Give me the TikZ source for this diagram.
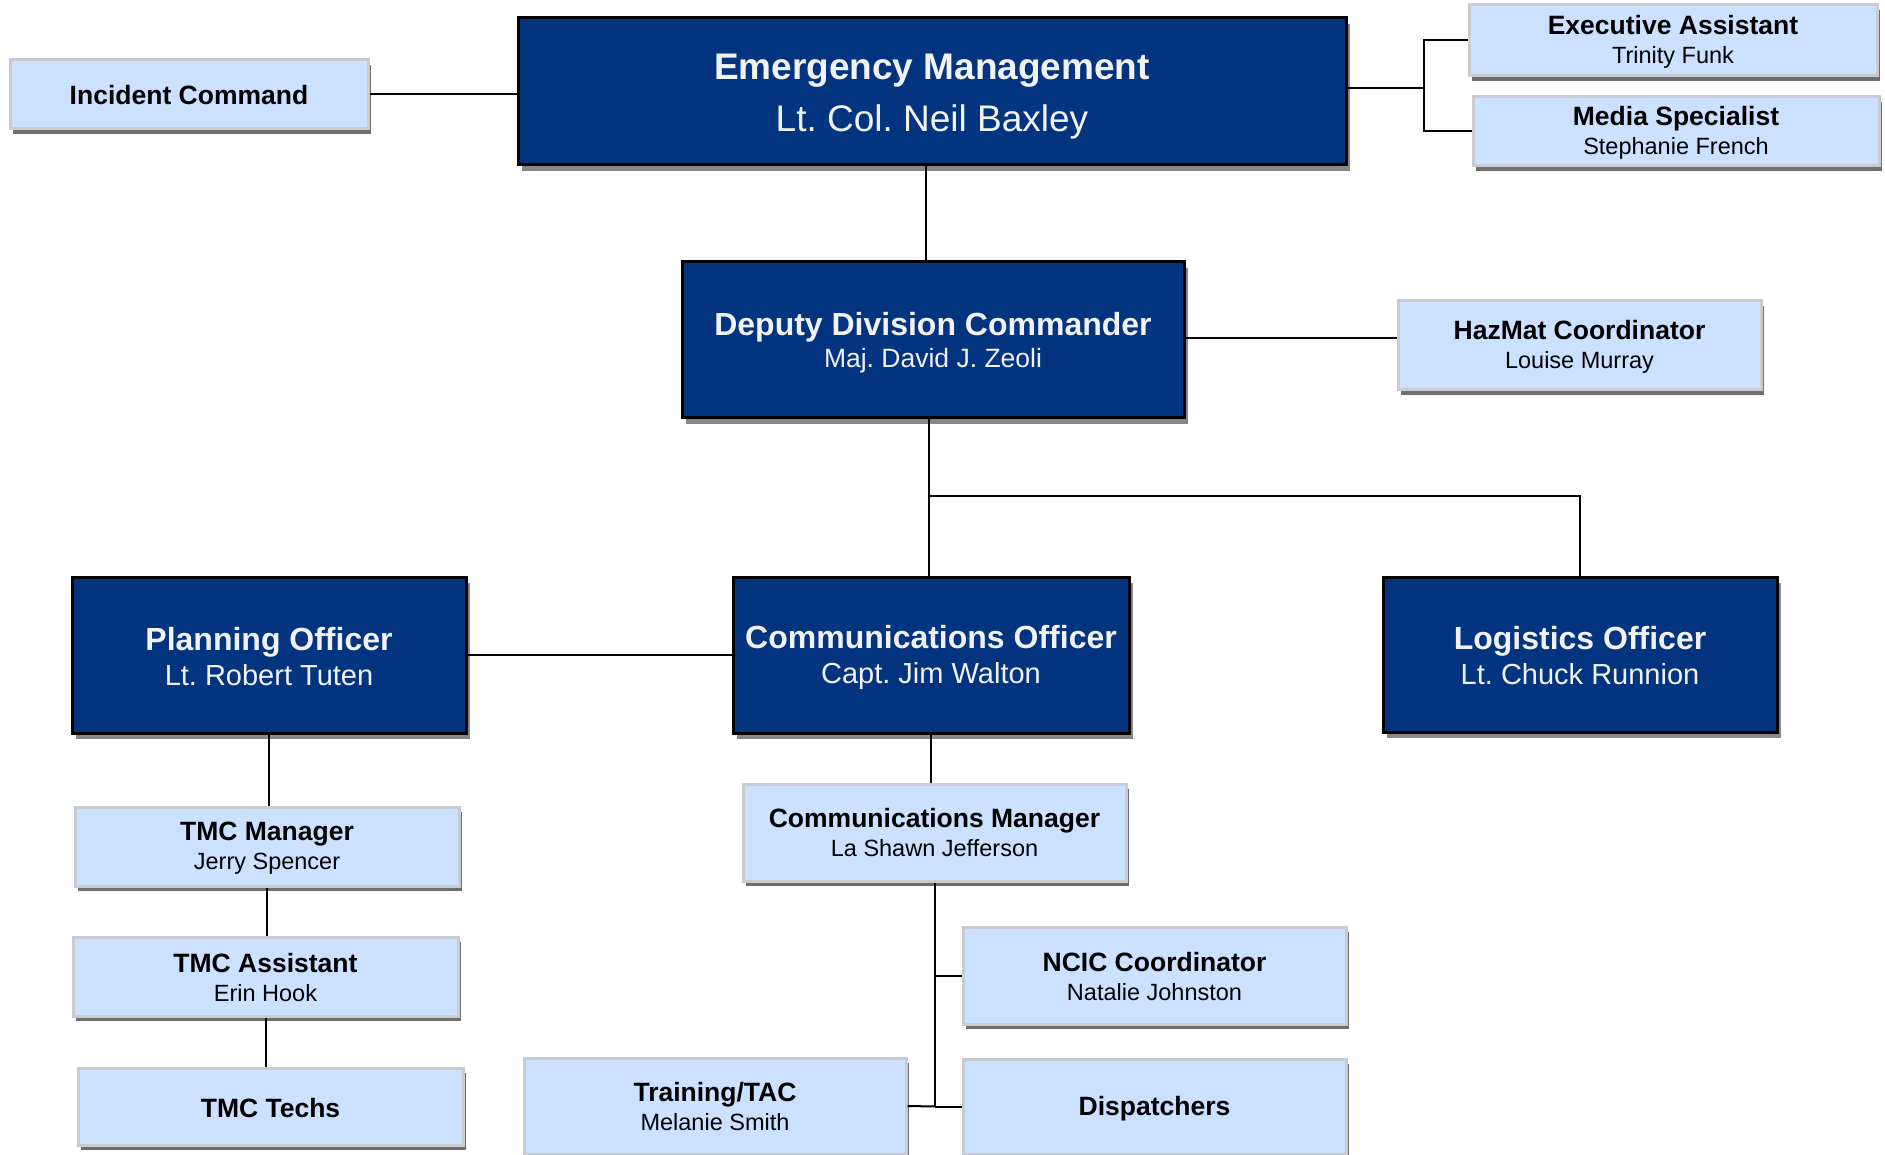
\documentclass[tikz,border=0pt]{standalone}
\usepackage{fontspec}
\setmainfont{Liberation Sans}
\frenchspacing
\usetikzlibrary{shadows,calc}
\definecolor{navy}{RGB}{3,52,128}
\definecolor{paleblue}{RGB}{204,224,255}
\definecolor{paleedge}{RGB}{200,203,208}
\definecolor{shadowdark}{RGB}{110,110,110}
\definecolor{shadowlight}{RGB}{135,135,135}
\definecolor{offwhite}{RGB}{242,242,242}
\tikzset{
  darkbox/.style={rectangle, fill=navy, draw=black, line width=3pt, text=offwhite,
    align=center, inner sep=0pt,
    drop shadow={shadow xshift=4pt, shadow yshift=-6pt, fill=shadowlight, opacity=1}},
  lightbox/.style={rectangle, fill=paleblue, draw=paleedge, line width=3pt, text=black,
    align=center, inner sep=0pt, font=\fontsize{26.5}{29}\selectfont,
    drop shadow={shadow xshift=3pt, shadow yshift=-5pt, fill=shadowdark, opacity=1}},
  officer/.style={darkbox, font=\fontsize{32}{35}\selectfont},
  conn/.style={draw=black, line width=2pt},
}
\newcommand{\lsub}[1]{{\fontsize{23.5}{29}\selectfont #1}}
\newcommand{\osub}[1]{{\fontsize{29}{35}\selectfont #1}}
\newcommand{\tp}[1]{\vrule height #1pt width 0pt depth 0pt}
\begin{document}
\begin{tikzpicture}[x=1pt,y=-1pt]
\useasboundingbox (0,0) rectangle (1885,1155);
\fill[white] (0,0) rectangle (1885,1155);

% top row
\node[lightbox, minimum width=358, minimum height=69] (IC) at (189,94.5) {\tp{21}\textbf{Incident Command}};
\node[darkbox, minimum width=828, minimum height=147, font=\fontsize{37}{52}\selectfont] (EM) at (932,91.5)
  {\tp{36.5}\textbf{Emergency Management}\\Lt. Col. Neil Baxley};
\node[lightbox, minimum width=408, minimum height=71] (EA) at (1673,40.5)
  {\tp{22}\textbf{Executive Assistant}\\\lsub{Trinity Funk}};
\node[lightbox, minimum width=406, minimum height=69] (MS) at (1676,131.5)
  {\tp{22}\textbf{Media Specialist}\\\lsub{Stephanie French}};

% second row
\node[darkbox, minimum width=502, minimum height=156, font=\fontsize{32}{32}\selectfont] (DDC) at (933,340)
  {\tp{29}\textbf{Deputy Division Commander}\\{\fontsize{26.5}{32}\selectfont Maj. David J. Zeoli}};
\node[lightbox, minimum width=363, minimum height=89] (HM) at (1579.5,345.5)
  {\tp{22}\textbf{HazMat Coordinator}\\\lsub{Louise Murray}};

% officers
\node[officer, minimum width=394, minimum height=156] (PO) at (269,655)
  {\tp{27}\textbf{Planning Officer}\\\osub{Lt. Robert Tuten}};
\node[officer, minimum width=396, minimum height=156] (CO) at (931,655)
  {\tp{27.5}\textbf{Communications Officer}\\\osub{Capt. Jim Walton}};
\node[officer, minimum width=394, minimum height=155] (LO) at (1580,654.5)
  {\tp{26}\textbf{Logistics Officer}\\\osub{Lt. Chuck Runnion}};

% planning column
\node[lightbox, minimum width=384, minimum height=79] (TMCM) at (267,846.5)
  {\tp{22}\textbf{TMC Manager}\\\lsub{Jerry Spencer}};
\node[lightbox, minimum width=385, minimum height=79] (TMCA) at (265.5,976.5)
  {\tp{22}\textbf{TMC Assistant}\\\lsub{Erin Hook}};
\node[lightbox, minimum width=385, minimum height=77] (TMCT) at (270.5,1106.5)
  {\tp{22}\textbf{TMC Techs}};

% communications column
\node[lightbox, minimum width=383, minimum height=97] (CM) at (934.5,832.5)
  {\tp{20}\textbf{Communications Manager}\\\lsub{La Shawn Jefferson}};
\node[lightbox, minimum width=383, minimum height=97] (NCIC) at (1154.5,975.5)
  {\tp{21}\textbf{NCIC Coordinator}\\\lsub{Natalie Johnston}};
\node[lightbox, minimum width=382, minimum height=96] (TT) at (715,1106)
  {\tp{21}\textbf{Training/TAC}\\\lsub{Melanie Smith}};
\node[lightbox, minimum width=383, minimum height=95] (DISP) at (1154.5,1106.5)
  {\tp{23}\textbf{Dispatchers}};

% connectors
\draw[conn] (IC.east) -- (IC.east -| EM.west);
\coordinate (j1) at ($(EM.east)+(76,-3)$);
\draw[conn] ($(EM.east)+(0,-3)$) -- (j1);
\draw[conn] (EA.west) -| (j1) |- (MS.west);
\coordinate (e1) at ($(EM.south)+(-6,0)$);
\draw[conn] (e1) -- (e1 |- DDC.north);
\draw[conn] ($(DDC.east)+(0,-2)$) -- ($(DDC.east -| HM.west)+(0,-2)$);
\coordinate (d1) at ($(DDC.south)+(-4,0)$);
\draw[conn] (d1) -- (d1 |- CO.north);
\coordinate (j2) at ($(d1)!0.49!(d1 |- CO.north)$);
\draw[conn] (j2) -| (LO.north);
\draw[conn] (PO.east) -- (CO.west);
\draw[conn] (PO.south) -- (PO.south |- TMCM.north);
\draw[conn] (TMCM.south) -- (TMCM.south |- TMCA.north);
\draw[conn] (TMCA.south) -- (TMCA.south |- TMCT.north);
\draw[conn] (CO.south) -- (CO.south |- CM.north);
\coordinate (j3) at (CM.south |- DISP.west);
\draw[conn] (CM.south) -- (j3);
\draw[conn] (j3) -- (DISP.west);
\draw[conn] (j3) -- (TT.east);
\draw[conn] (CM.south |- NCIC.west) -- (NCIC.west);
\end{tikzpicture}
\end{document}
